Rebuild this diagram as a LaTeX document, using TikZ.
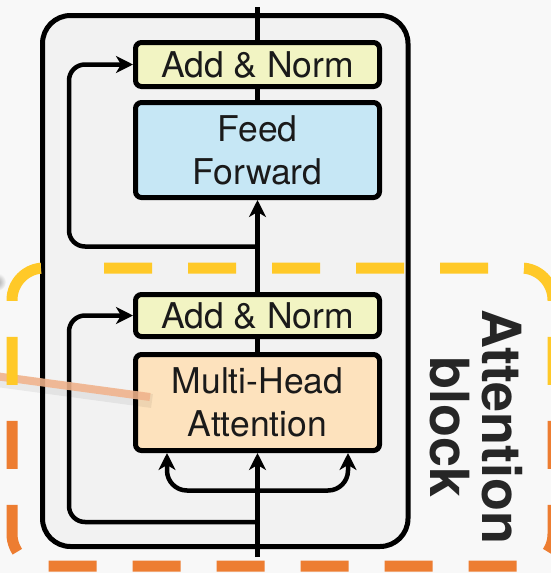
\documentclass[tikz,border=0pt]{standalone}
\usepackage{fontspec}
\setmainfont{TeX Gyre Heros}
\usetikzlibrary{arrows.meta}
\definecolor{bgc}{HTML}{F8F8F8}
\definecolor{innerc}{HTML}{F2F2F2}
\definecolor{normfill}{HTML}{F2F4C3}
\definecolor{fffill}{HTML}{C6E7F5}
\definecolor{mhafill}{HTML}{FDE2BD}
\definecolor{dashyel}{HTML}{FFC928}
\definecolor{dashora}{HTML}{ED7D31}
\definecolor{pinkline}{HTML}{F1B38C}
\definecolor{txt}{HTML}{1A1A1A}
\begin{document}
\begin{tikzpicture}[x=1pt,y=-1pt,
  blk/.style={draw=black, line width=5pt, rounded corners=6pt, minimum width=244pt,
    align=center, text=txt, font=\fontsize{35.5}{43}\selectfont, inner sep=0pt},
  wire/.style={draw=black, line width=4.5pt},
  arr/.style={wire, -{Stealth[length=17pt,width=17pt,inset=5pt]}},
  dashbox/.style={line width=11pt, dash pattern=on 48pt off 36pt, dash phase=56pt, rounded corners=32pt},
]
\useasboundingbox (0,0) rectangle (551,573);
\fill[bgc] (0,0) rectangle (551,573);
\shade[inner color=black!35, outer color=bgc] (-3,282) circle (9);

% outer block
\draw[line width=5pt, fill=innerc, rounded corners=28pt] (42.5,15.5) rectangle (408,546.5);

% nodes
\node[blk, fill=normfill, minimum height=44pt] (an1) at (257.5,64.5) {Add \& Norm};
\node[blk, fill=fffill, minimum height=95pt] (ff) at (257.5,150) {Feed\\Forward};
\node[blk, fill=normfill, minimum height=42pt] (an2) at (257.5,315.5) {Add \& Norm};
\node[blk, fill=mhafill, minimum height=96pt] (mha) at (257.5,402.5) {Multi-Head\\Attention};

% coordinates
\coordinate (top) at (257.5,7);
\coordinate (bot) at (257.5,557);
\coordinate (res1) at (257.5,246.5);
\coordinate (res2) at (257.5,522);
\coordinate (br) at (257.5,490.5);

% main data path
\draw[wire] (an1.north) -- (top);
\draw[wire] (ff.north) -- (an1.south);
\draw[arr] (an2.north) -- (ff.south);
\draw[wire] (mha.north) -- (an2.south);
\draw[arr] (bot) -- (mha.south);

% residual connections
\draw[arr, rounded corners=16pt] (res1) -- (69,246.5) |- (an1.west);
\draw[arr, rounded corners=16pt] (res2) -- (69,522) |- (an2.west);

% branches into attention
\draw[arr, rounded corners=20pt] (br) -| ([xshift=-90.5pt]mha.south);
\draw[arr, rounded corners=20pt] (br) -| ([xshift=90.5pt]mha.south);

% pointer line
\coordinate (pstart) at (-5,376);
\coordinate (pend) at (150,397);
\draw[black, opacity=0.06, line width=14pt] ([shift={(2pt,-4pt)}]pstart) -- ([shift={(2pt,-4pt)}]pend);
\draw[pinkline, opacity=0.88, line width=8pt] (pstart) -- (pend);

% dashed attention block
\begin{scope}
  \clip (-20,-20) rectangle (600,408);
  \draw[dashyel, dashbox] (76,268) -- (553,268) -- (553,566) -- (12,566) -- (12,268) -- (76,268);
\end{scope}
\begin{scope}
  \clip (-20,408) rectangle (600,600);
  \draw[dashora, dashbox] (76,268) -- (553,268) -- (553,566) -- (12,566) -- (12,268) -- (76,268);
\end{scope}

\node[rotate=-90, align=center, text=black!85, font=\bfseries\fontsize{54}{52}\selectfont, inner sep=0pt] (lbl) at (476,427) {Attention\\block};
\end{tikzpicture}
\end{document}
